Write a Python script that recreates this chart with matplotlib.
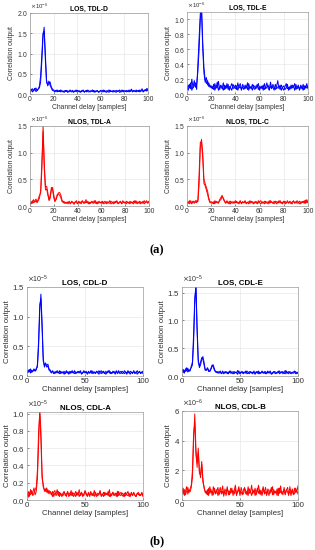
import numpy as np
import matplotlib
matplotlib.use("Agg")
import matplotlib.pyplot as plt
from matplotlib.ticker import ScalarFormatter

plt.rcParams["font.family"] = ["Liberation Sans", "DejaVu Sans"]

# ── data (values in 0.01 of the display unit, one list per trace) ─────────────

tdl_d_1 = [8, 12, 5, 10, 14, 6, 9, 13, 15,
           30, 80, 140, 165, 100, 35, 20, 26, 30, 18, 12, 10,
           7, 9, 5, 8, 6, 10, 7, 5, 8, 6, 9, 4, 7, 8, 5, 9, 6, 7, 10, 5,
           6, 8, 4, 9, 7, 6, 8, 5, 10, 7, 5, 8, 6, 9, 4, 7, 8, 6, 5, 9,
           7, 10, 6, 5, 8, 7, 4, 9, 6, 8, 5, 7, 9, 6, 8, 4, 7, 10, 5, 8,
           6, 9, 7, 5, 8, 12, 6, 9, 7, 5, 8, 6, 10, 7, 9, 5, 8, 11, 7, 12]
tdl_d_2 = [5, 9, 13, 7, 11, 15, 8, 12, 20,
           45, 95, 150, 155, 85, 28, 24, 32, 22, 15, 9, 8,
           5, 8, 10, 6, 9, 5, 8, 7, 4, 9, 6, 8, 5, 10, 7, 6, 4, 8, 6, 9,
           8, 5, 7, 6, 10, 4, 7, 9, 6, 5, 8, 7, 10, 5, 8, 6, 9, 4, 7, 8,
           6, 5, 9, 7, 4, 8, 10, 6, 7, 5, 9, 6, 4, 8, 7, 10, 5, 6, 9, 7,
           8, 5, 7, 10, 6, 9, 5, 8, 6, 10, 7, 9, 5, 8, 13, 6, 10, 8, 14, 9]

tdl_e_1 = [6, 12, 8, 15, 5, 10, 18, 9, 14,
           30, 60, 100, 118, 70, 35, 20, 14, 18, 10, 12, 8,
           10, 6, 14, 8, 16, 5, 9, 12, 7, 15, 6, 11, 8, 13, 5, 10, 14, 7, 9, 12,
           6, 15, 8, 10, 5, 13, 9, 7, 11, 6, 14, 8, 10, 5, 12, 9, 7, 13, 6, 10,
           8, 11, 5, 14, 7, 9, 12, 6, 16, 8, 10, 5, 13, 7, 9, 11, 6, 12, 8, 5,
           10, 14, 7, 9, 6, 12, 8, 11, 5, 13, 7, 10, 6, 12, 9, 5, 11, 8, 14, 7]
tdl_e_2 = [10, 5, 13, 7, 20, 8, 11, 15, 6,
           40, 75, 108, 112, 60, 28, 16, 22, 12, 15, 9, 11,
           7, 13, 5, 10, 8, 17, 6, 11, 9, 5, 12, 7, 14, 6, 10, 8, 5, 13, 9, 7,
           11, 5, 10, 14, 7, 9, 6, 12, 8, 15, 5, 10, 7, 13, 8, 6, 11, 9, 14, 5,
           10, 7, 12, 6, 9, 15, 8, 5, 11, 7, 13, 9, 6, 10, 18, 7, 12, 5, 9, 11,
           6, 8, 13, 5, 10, 7, 12, 9, 14, 6, 9, 12, 5, 10, 7, 13, 6, 11, 8, 10]

tdl_a_1 = [3, 8, 5, 12, 7, 10, 6, 14, 20,
           25, 70, 150, 80, 35, 37, 25, 10, 15, 30, 35, 20, 10, 12, 20, 25, 25,
           20, 10, 6, 8, 5,
           7, 4, 9, 5, 8, 6, 3, 7, 10, 5, 6, 8, 4, 9, 7, 5, 12, 6, 8, 4,
           7, 9, 5, 6, 10, 4, 8, 6, 7, 5, 9, 4, 6, 8, 5, 7, 10, 4, 6, 8,
           5, 9, 7, 4, 6, 8, 5, 10, 6, 7, 4, 8, 5, 9, 6, 7, 4, 10, 5, 8,
           6, 9, 4, 7, 5, 10, 6, 8, 5, 9]
tdl_a_2 = [6, 4, 10, 6, 9, 13, 8, 10, 15,
           30, 85, 140, 70, 30, 32, 20, 12, 20, 35, 30, 15, 8, 15, 22, 22, 20,
           15, 8, 9, 5, 7,
           5, 8, 6, 4, 9, 7, 5, 8, 6, 4, 9, 5, 7, 10, 5, 8, 6, 9, 4, 7,
           5, 8, 6, 10, 5, 7, 4, 9, 6, 8, 5, 7, 9, 4, 8, 6, 5, 9, 7, 4,
           8, 6, 10, 5, 7, 9, 4, 6, 8, 5, 9, 6, 7, 4, 8, 5, 9, 6, 10, 4,
           7, 5, 8, 6, 9, 4, 7, 10, 6, 8]

tdl_c_1 = [5, 8, 4, 10, 6, 9, 5, 7, 10, 8,
           40, 110, 125, 100, 50, 42, 35, 28, 15, 8, 6,
           5, 8, 4, 9, 6, 7, 10, 12, 18, 15, 10, 6, 8, 5, 9, 4, 7, 8, 5, 10,
           6, 7, 4, 9, 5, 8, 6, 10, 4, 7, 8, 5, 9, 6, 4, 8, 7, 5, 10, 6,
           4, 8, 6, 9, 5, 7, 4, 10, 6, 8, 5, 9, 7, 4, 8, 6, 10, 5, 7, 9,
           4, 6, 8, 5, 9, 7, 4, 10, 6, 8, 5, 7, 9, 4, 8, 6, 10, 5, 12, 6]
tdl_c_2 = [8, 5, 10, 6, 4, 9, 7, 10, 6, 12,
           60, 120, 118, 90, 42, 38, 30, 22, 12, 6, 8,
           7, 4, 10, 6, 8, 5, 12, 16, 20, 13, 8, 5, 10, 6, 4, 9, 7, 5, 8, 6,
           9, 5, 7, 10, 4, 8, 6, 9, 5, 7, 4, 10, 6, 8, 7, 5, 9, 4, 6, 8,
           10, 5, 7, 4, 9, 6, 8, 5, 10, 7, 6, 4, 9, 8, 5, 10, 6, 7, 4, 8,
           9, 5, 10, 6, 7, 4, 8, 9, 5, 7, 10, 6, 4, 8, 7, 9, 5, 11, 6, 9]

cdl_d_1 = [5, 10, 7, 12, 6, 9, 11, 8, 13,
           15, 50, 110, 138, 90, 30, 15, 20, 18, 20, 12, 10,
           6, 8, 4, 7, 5, 9, 6, 4, 8, 5, 7, 3, 6, 9, 5, 7, 4, 8, 6, 5,
           9, 4, 6, 7, 5, 8, 3, 6, 9, 5, 7, 4, 8, 5, 6, 9, 4, 7, 5, 8,
           6, 3, 7, 9, 5, 6, 4, 8, 5, 7, 9, 4, 6, 5, 8, 3, 7, 6, 9, 4,
           5, 8, 6, 4, 7, 5, 9, 6, 3, 7, 5, 8, 4, 6, 9, 5, 7, 4, 6, 8]
cdl_d_2 = [8, 6, 11, 5, 10, 7, 12, 9, 10,
           20, 60, 120, 130, 80, 25, 18, 22, 15, 17, 10, 8,
           5, 9, 6, 4, 8, 6, 5, 9, 4, 7, 5, 8, 4, 6, 7, 3, 8, 5, 9, 6,
           4, 7, 5, 8, 6, 9, 4, 5, 7, 6, 8, 3, 6, 5, 9, 4, 7, 6, 4, 8,
           5, 9, 6, 4, 7, 8, 5, 3, 6, 9, 5, 7, 4, 8, 6, 5, 9, 4, 7, 6,
           8, 4, 5, 9, 6, 3, 7, 5, 8, 6, 4, 9, 5, 7, 3, 6, 8, 5, 7, 4]

cdl_e_1 = [8, 12, 5, 13, 9, 14, 8, 12, 15,
           20, 60, 130, 165, 90, 30, 15, 20, 30, 35, 25, 12, 10, 15, 10, 8, 12,
           18, 20, 12, 8, 6,
           8, 5, 7, 4, 9, 6, 5, 8, 4, 7, 6, 9, 5, 4, 8, 6, 7, 3, 9, 5,
           6, 8, 4, 7, 5, 9, 6, 4, 8, 5, 7, 6, 3, 8, 5, 9, 4, 6, 7, 5,
           8, 4, 6, 9, 5, 7, 3, 6, 8, 5, 4, 7, 6, 9, 5, 8, 4, 6, 10, 5,
           7, 4, 8, 6, 5, 7, 9, 4, 6, 5]
cdl_e_2 = [12, 6, 10, 8, 15, 7, 11, 9, 18,
           25, 75, 140, 160, 80, 25, 18, 25, 33, 30, 20, 10, 12, 13, 8, 10, 14,
           20, 16, 10, 7, 8,
           5, 7, 9, 5, 6, 4, 8, 6, 7, 4, 9, 5, 6, 8, 4, 7, 5, 10, 6, 4,
           8, 5, 7, 6, 9, 4, 5, 8, 6, 7, 4, 9, 5, 6, 8, 4, 7, 5, 9, 6,
           5, 8, 4, 7, 6, 9, 5, 4, 7, 8, 6, 5, 9, 4, 7, 6, 8, 5, 4, 9,
           5, 8, 6, 4, 7, 5, 6, 8, 4, 7]

cdl_a_1 = [5, 10, 4, 12, 7, 9, 14, 6, 10,
           25, 65, 105, 80, 30, 15, 12, 10, 14, 8, 11, 9,
           6, 10, 4, 8, 7, 12, 5, 9, 6, 4, 8, 10, 5, 7, 9, 4, 6, 11, 5, 8,
           7, 4, 9, 6, 12, 5, 8, 4, 7, 10, 6, 5, 9, 4, 8, 7, 5, 11, 6, 4,
           8, 6, 10, 5, 7, 4, 9, 6, 8, 5, 12, 4, 7, 9, 5, 6, 8, 4, 10, 6,
           5, 8, 7, 4, 9, 6, 5, 8, 4, 7, 6, 9, 5, 4, 8, 6, 7, 5, 9, 4]
cdl_a_2 = [8, 3, 9, 6, 11, 5, 8, 12, 15,
           35, 80, 100, 70, 25, 18, 10, 13, 9, 12, 7, 10,
           8, 4, 9, 11, 5, 7, 10, 4, 8, 6, 5, 9, 7, 4, 10, 6, 8, 5, 9, 4,
           6, 10, 5, 8, 4, 7, 9, 6, 5, 11, 8, 4, 7, 6, 10, 5, 8, 4, 9, 6,
           5, 7, 11, 4, 6, 9, 5, 8, 6, 10, 4, 7, 5, 9, 6, 8, 4, 10, 5, 7,
           9, 6, 4, 8, 5, 7, 10, 4, 6, 9, 5, 8, 6, 4, 7, 9, 5, 6, 8, 5]

cdl_b_1 = [50, 80, 30, 60, 90, 40, 70, 55, 85,
           150, 400, 580, 350, 220, 350, 200, 150, 260, 150, 80, 60,
           40, 70, 30, 90, 50, 60, 35, 80, 45, 70, 30, 55, 85, 40, 60, 25, 75, 50, 90, 35,
           60, 45, 80, 30, 65, 100, 40, 55, 70, 30, 85, 50, 40, 75, 60, 35, 90, 45, 55, 30,
           70, 50, 80, 35, 60, 100, 40, 65, 30, 75, 50, 85, 40, 60, 30, 70, 55, 90, 35, 60,
           45, 75, 30, 80, 50, 60, 35, 85, 40, 70, 55, 30, 90, 45, 65, 35, 80, 50, 60, 40]
cdl_b_2 = [80, 40, 70, 35, 60, 85, 50, 75, 100,
           200, 450, 520, 300, 250, 320, 180, 170, 240, 120, 90, 50,
           60, 35, 80, 45, 70, 30, 90, 55, 40, 65, 85, 35, 60, 50, 95, 40, 55, 30, 70, 60,
           35, 80, 50, 65, 40, 75, 30, 60, 90, 45, 55, 35, 70, 85, 40, 60, 30, 75, 50, 100,
           40, 65, 30, 55, 80, 45, 70, 35, 60, 90, 40, 55, 30, 75, 60, 45, 85, 35, 70, 50,
           60, 30, 80, 45, 95, 40, 55, 70, 35, 65, 85, 45, 60, 30, 75, 50, 40, 80, 55, 95]

titles = ["LOS, TDL-D", "LOS, TDL-E", "NLOS, TDL-A", "NLOS, TDL-C",
          "LOS, CDL-D", "LOS, CDL-E", "NLOS, CDL-A", "NLOS, CDL-B"]
traces = [(tdl_d_1, tdl_d_2), (tdl_e_1, tdl_e_2), (tdl_a_1, tdl_a_2), (tdl_c_1, tdl_c_2),
          (cdl_d_1, cdl_d_2), (cdl_e_1, cdl_e_2), (cdl_a_1, cdl_a_2), (cdl_b_1, cdl_b_2)]
exponents = [-6, -6, -6, -6, -5, -5, -5, -6]

# ── layout / style ────────────────────────────────────────────────────────────

W, H = 315, 550
# left, top, right, bottom in pixels
rects = [(30, 13, 148, 94), (187, 12, 308, 94), (30, 126, 149, 206), (187, 126, 308, 206),
         (27, 287, 143, 376), (182, 287, 298, 376), (27, 412, 143, 500), (182, 411, 298, 500)]
ylims = [2, 1.1, 1.5, 1.5, 1.5, 1.6, 1.02, 6]
yticks = [[0, 0.5, 1, 1.5, 2], [0, 0.2, 0.4, 0.6, 0.8, 1], [0, 0.5, 1, 1.5], [0, 0.5, 1, 1.5],
          [0, 0.5, 1, 1.5], [0, 0.5, 1, 1.5], [0, 0.2, 0.4, 0.6, 0.8, 1], [0, 2, 4, 6]]
colors = ["#0000ff", "#0000ff", "#ff0000", "#ff0000",
          "#0000ff", "#0000ff", "#ff0000", "#ff0000"]

fig = plt.figure(figsize=(W / 100, H / 100), dpi=100)

for i in range(8):
    l, t, r, b = rects[i]
    ax = fig.add_axes([l / W, 1 - b / H, (r - l) / W, (b - t) / H])
    scale = 10.0 ** exponents[i]
    small = i < 4
    fs = 4.9 if small else 5.7
    for tr in traces[i]:
        y = np.array(tr) / 100 * scale
        ax.plot(np.arange(len(y)), y, color=colors[i], lw=0.7)
    ax.set_xlim(0, 100)
    ax.set_ylim(0, ylims[i] * scale)
    ax.set_xticks([0, 20, 40, 60, 80, 100] if small else [0, 50, 100])
    ax.set_yticks([v * scale for v in yticks[i]])
    fmt = ScalarFormatter(useMathText=True)
    fmt.set_powerlimits((0, 0))
    ax.yaxis.set_major_formatter(fmt)
    ax.yaxis.get_offset_text().set_fontsize(fs - 0.6)
    ax.yaxis.get_offset_text().set_color("#555555")
    ax.grid(True, color="#e2e2e2", lw=0.4)
    ax.set_axisbelow(True)
    ax.tick_params(direction="in", length=1.5, width=0.4, labelsize=fs,
                   colors="#333333", pad=1.5)
    for s in ax.spines.values():
        s.set_color("#9a9a9a")
        s.set_linewidth(0.5)
    ax.set_title(titles[i], fontsize=fs, fontweight="bold", pad=1.5)
    ax.set_xlabel("Channel delay [samples]", fontsize=fs, color="#333333", labelpad=1)
    ax.set_ylabel("Correlation output", fontsize=fs, color="#333333", labelpad=1)

fig.text(157 / W, 1 - 250 / H, "(a)", ha="center", va="center", fontsize=9,
         fontweight="bold", family=["Liberation Serif", "DejaVu Serif"])
fig.text(157 / W, 1 - 541 / H, "(b)", ha="center", va="center", fontsize=9,
         fontweight="bold", family=["Liberation Serif", "DejaVu Serif"])

fig.savefig("out.png", dpi=100, facecolor="white")
